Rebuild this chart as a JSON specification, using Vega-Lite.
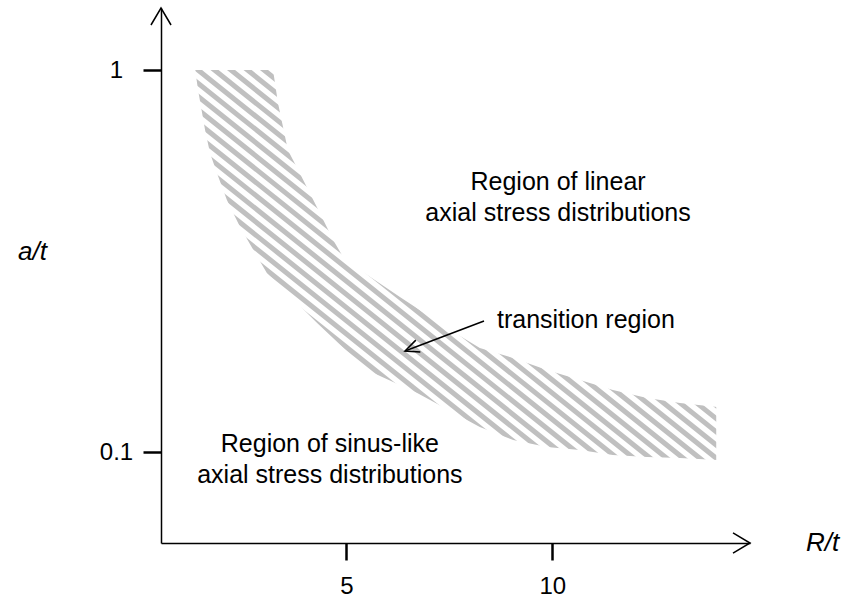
{
  "$schema": "https://vega.github.io/schema/vega-lite/v6.json",
  "width": 589,
  "height": 535,
  "autosize": {"type": "none"},
  "padding": {"left": 161, "top": 8, "right": 104, "bottom": 59},
  "background": "white",
  "config": {"view": {"stroke": null}, "font": "Liberation Sans"},
  "datasets": {
    "stripes": [
      {"x1": -4.113, "x2": 8.329, "y1": 1.062, "y2": 0.0897},
      {"x1": -3.712, "x2": 8.730, "y1": 1.062, "y2": 0.0897},
      {"x1": -3.312, "x2": 9.130, "y1": 1.062, "y2": 0.0897},
      {"x1": -2.911, "x2": 9.531, "y1": 1.062, "y2": 0.0897},
      {"x1": -2.510, "x2": 9.932, "y1": 1.062, "y2": 0.0897},
      {"x1": -2.110, "x2": 10.332, "y1": 1.062, "y2": 0.0897},
      {"x1": -1.709, "x2": 10.733, "y1": 1.062, "y2": 0.0897},
      {"x1": -1.309, "x2": 11.133, "y1": 1.062, "y2": 0.0897},
      {"x1": -0.908, "x2": 11.534, "y1": 1.062, "y2": 0.0897},
      {"x1": -0.507, "x2": 11.935, "y1": 1.062, "y2": 0.0897},
      {"x1": -0.107, "x2": 12.335, "y1": 1.062, "y2": 0.0897},
      {"x1": 0.294, "x2": 12.736, "y1": 1.062, "y2": 0.0897},
      {"x1": 0.694, "x2": 13.136, "y1": 1.062, "y2": 0.0897},
      {"x1": 1.095, "x2": 13.537, "y1": 1.062, "y2": 0.0897},
      {"x1": 1.496, "x2": 13.938, "y1": 1.062, "y2": 0.0897},
      {"x1": 1.896, "x2": 14.338, "y1": 1.062, "y2": 0.0897},
      {"x1": 2.297, "x2": 14.739, "y1": 1.062, "y2": 0.0897},
      {"x1": 2.697, "x2": 15.139, "y1": 1.062, "y2": 0.0897},
      {"x1": 3.098, "x2": 15.540, "y1": 1.062, "y2": 0.0897},
      {"x1": 3.499, "x2": 15.940, "y1": 1.062, "y2": 0.0897}
    ],
    "upper": [
      {"x": 0.5, "y": 1}, {"x": 3.22, "y": 1}, {"x": 3.34, "y": 0.82},
      {"x": 3.58, "y": 0.617}, {"x": 3.87, "y": 0.537}, {"x": 4.36, "y": 0.422},
      {"x": 4.68, "y": 0.359}, {"x": 4.92, "y": 0.324}, {"x": 5.33, "y": 0.2996},
      {"x": 6.30, "y": 0.2545}, {"x": 7.52, "y": 0.2087}, {"x": 8.24, "y": 0.1872},
      {"x": 9.05, "y": 0.1762}, {"x": 9.87, "y": 0.164}, {"x": 10.67, "y": 0.1543},
      {"x": 11.47, "y": 0.1453}, {"x": 12.30, "y": 0.1384}, {"x": 13.10, "y": 0.1343},
      {"x": 14.0, "y": 0.1312}
    ],
    "lower": [
      {"x": 1.30, "y": 1}, {"x": 1.33, "y": 1}, {"x": 1.40, "y": 0.886},
      {"x": 1.57, "y": 0.697}, {"x": 1.69, "y": 0.606}, {"x": 1.86, "y": 0.537},
      {"x": 2.10, "y": 0.457}, {"x": 2.42, "y": 0.388}, {"x": 3.07, "y": 0.294},
      {"x": 4.29, "y": 0.2177}, {"x": 5.50, "y": 0.164}, {"x": 6.72, "y": 0.1427},
      {"x": 8.24, "y": 0.1162}, {"x": 9.05, "y": 0.1075}, {"x": 9.87, "y": 0.103},
      {"x": 10.67, "y": 0.1012}, {"x": 11.47, "y": 0.0982}, {"x": 12.30, "y": 0.097},
      {"x": 13.10, "y": 0.0964}, {"x": 14.0, "y": 0.0953}
    ],
    "masks": [
      {"x1": 0.5, "x2": 1.33, "y1": 0.05778, "y2": 1.4532},
      {"x1": 13.98, "x2": 14.8, "y1": 0.05778, "y2": 1.4532}
    ],
    "labels": [
      {"x": 10.14, "y": 0.4853, "text": ["Region of linear", "axial stress distributions"]},
      {"x": 4.60, "y": 0.1, "text": ["Region of sinus-like", "axial stress distributions"]}
    ],
    "note": [{"x": 8.657, "y": 0.2112, "text": "transition region"}],
    "pointer": [{"x": 8.342, "y": 0.2203, "x2": 6.424, "y2": 0.1838}],
    "pointerHead": [{"x": 6.424, "y": 0.1838}],
    "xHead": [{"x": 14.8, "y": 0.05778}],
    "yHead": [{"x": 0.5, "y": 1.4532}]
  },
  "layer": [
    {
      "data": {"name": "stripes"},
      "mark": {"type": "rule", "color": "#c0c0c0", "strokeWidth": 5, "clip": true},
      "encoding": {
        "x": {
          "field": "x1", "type": "quantitative",
          "scale": {"domain": [0.5, 14.8], "nice": false, "zero": false},
          "axis": {
            "title": "R/t", "values": [5, 10], "grid": false, "zindex": 1,
            "tickSize": 17, "tickWidth": 2.5, "tickColor": "black",
            "domainColor": "black", "domainWidth": 1.5,
            "labelFontSize": 24, "labelPadding": 14, "labelColor": "black", "labelFlush": false, "labelFont": "Liberation Sans",
            "titleX": 661, "titleY": 7, "titleAlign": "center", "titleBaseline": "alphabetic",
            "titleFontSize": 26, "titleFontStyle": "italic", "titleFontWeight": "normal", "titleColor": "black", "titleFont": "Liberation Sans"
          }
        },
        "x2": {"field": "x2"},
        "y": {
          "field": "y1", "type": "quantitative",
          "scale": {"type": "log", "domain": [0.05778, 1.4532], "nice": false},
          "axis": {
            "title": "a/t", "values": [0.1, 1], "format": "~g", "grid": false, "zindex": 1,
            "tickSize": 18, "tickWidth": 2.5, "tickColor": "black",
            "domainColor": "black", "domainWidth": 1.5,
            "labelFontSize": 24, "labelPadding": 27, "labelAlign": "center", "labelBaseline": "middle", "labelColor": "black", "labelFlush": false, "labelFont": "Liberation Sans",
            "titleAngle": 0, "titleX": -129, "titleY": 251, "titleAlign": "center", "titleBaseline": "alphabetic",
            "titleFontSize": 26, "titleFontStyle": "italic", "titleFontWeight": "normal", "titleColor": "black", "titleFont": "Liberation Sans"
          }
        },
        "y2": {"field": "y2"}
      }
    },
    {
      "data": {"name": "upper"},
      "mark": {"type": "area", "color": "white", "opacity": 1},
      "encoding": {
        "x": {"field": "x", "type": "quantitative"},
        "y": {"field": "y", "type": "quantitative"},
        "y2": {"datum": 1.4532}
      }
    },
    {
      "data": {"name": "lower"},
      "mark": {"type": "area", "color": "white", "opacity": 1},
      "encoding": {
        "x": {"field": "x", "type": "quantitative"},
        "y": {"field": "y", "type": "quantitative"},
        "y2": {"datum": 0.05778}
      }
    },
    {
      "data": {"name": "masks"},
      "mark": {"type": "rect", "color": "white"},
      "encoding": {
        "x": {"field": "x1", "type": "quantitative"},
        "x2": {"field": "x2"},
        "y": {"field": "y1", "type": "quantitative"},
        "y2": {"field": "y2"}
      }
    },
    {
      "data": {"name": "labels"},
      "mark": {"type": "text", "align": "center", "baseline": "alphabetic", "fontSize": 25, "lineHeight": 31, "color": "black", "font": "Liberation Sans"},
      "encoding": {
        "x": {"field": "x", "type": "quantitative"},
        "y": {"field": "y", "type": "quantitative"},
        "text": {"field": "text"}
      }
    },
    {
      "data": {"name": "note"},
      "mark": {"type": "text", "align": "left", "baseline": "alphabetic", "fontSize": 25, "color": "black", "font": "Liberation Sans"},
      "encoding": {
        "x": {"field": "x", "type": "quantitative"},
        "y": {"field": "y", "type": "quantitative"},
        "text": {"field": "text"}
      }
    },
    {
      "data": {"name": "pointer"},
      "mark": {"type": "rule", "color": "black", "strokeWidth": 1.5},
      "encoding": {
        "x": {"field": "x", "type": "quantitative"},
        "y": {"field": "y", "type": "quantitative"},
        "x2": {"field": "x2"},
        "y2": {"field": "y2"}
      }
    },
    {
      "data": {"name": "pointerHead"},
      "mark": {"type": "point", "shape": "M-1,-0.45L0,0L-1,0.45", "size": 784, "angle": 159, "filled": false, "stroke": "black", "strokeWidth": 1.5, "opacity": 1},
      "encoding": {
        "x": {"field": "x", "type": "quantitative"},
        "y": {"field": "y", "type": "quantitative"}
      }
    },
    {
      "data": {"name": "xHead"},
      "mark": {"type": "point", "shape": "M-1,-0.59L0,0L-1,0.59", "size": 1156, "filled": false, "stroke": "black", "strokeWidth": 1.5, "opacity": 1, "clip": false},
      "encoding": {
        "x": {"field": "x", "type": "quantitative"},
        "y": {"field": "y", "type": "quantitative"}
      }
    },
    {
      "data": {"name": "yHead"},
      "mark": {"type": "point", "shape": "M-0.59,1L0,0L0.59,1", "size": 1156, "filled": false, "stroke": "black", "strokeWidth": 1.5, "opacity": 1, "clip": false},
      "encoding": {
        "x": {"field": "x", "type": "quantitative"},
        "y": {"field": "y", "type": "quantitative"}
      }
    }
  ]
}
